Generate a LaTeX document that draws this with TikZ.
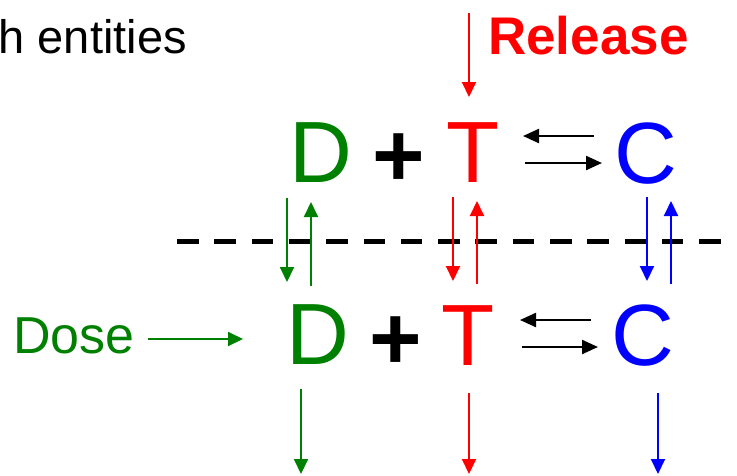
\documentclass[tikz,border=0pt]{standalone}
\usepackage{fontspec}
\setmainfont{Liberation Sans}
\usetikzlibrary{arrows.meta}
\definecolor{dgreen}{RGB}{0,128,0}
\tikzset{
  big/.style={font=\fontsize{87}{90}\selectfont, inner sep=0pt, anchor=base},
  plus/.style={font=\fontsize{90}{94}\selectfont\bfseries, inner sep=0pt, anchor=base},
  lbl/.style={inner sep=0pt, anchor=base west},
  arr/.style={line width=2pt, -{Triangle[length=15pt,width=14pt]}},
  barr/.style={line width=2.3pt, -{Triangle[length=16pt,width=14pt]}},
  sep/.style={line width=5pt, dash pattern=on 21.5pt off 15.8pt}
}
\begin{document}
\begin{tikzpicture}[x=1pt,y=-1pt]
\useasboundingbox (0,0) rectangle (737,475);
% texts
\node[lbl, font=\fontsize{47}{50}\selectfont] (title) at (-1.5,53) {h entities};
\node[lbl, text=red, font=\fontsize{53}{56}\selectfont\bfseries] (rel) at (488,54) {Release};
\node[lbl, text=dgreen, font=\fontsize{52}{55}\selectfont] (dose) at (13,353) {Dose};
% top row
\node[big, text=dgreen] (D1) at (321,182) {D};
\node[plus] (P1) at (399,186) {+};
\node[big, text=red] (T1) at (473,182) {T};
\node[big, text=blue] (C1) at (645.5,183) {C};
% bottom row
\node[big, text=dgreen] (D2) at (318,364) {D};
\node[plus] (P2) at (396,369.5) {+};
\node[big, text=red] (T2) at (468,365) {T};
\node[big, text=blue] (C2) at (642.5,365) {C};
% coordinates
\coordinate (relA) at (469,13);  \coordinate (relB) at (469,97);
\coordinate (doseA) at (148,339); \coordinate (doseB) at (243,339);
\coordinate (e1a) at (594,136); \coordinate (e1b) at (523,136);
\coordinate (e2a) at (525,163); \coordinate (e2b) at (602,163);
\coordinate (e3a) at (591,320); \coordinate (e3b) at (520,320);
\coordinate (e4a) at (522,347); \coordinate (e4b) at (598,347);
\coordinate (gdA) at (287,198); \coordinate (gdB) at (287,282);
\coordinate (guA) at (311,286); \coordinate (guB) at (311,202);
\coordinate (rdA) at (453,197); \coordinate (rdB) at (453,281);
\coordinate (ruA) at (477,284); \coordinate (ruB) at (477,201);
\coordinate (bdA) at (647,197); \coordinate (bdB) at (647,281);
\coordinate (buA) at (671,284); \coordinate (buB) at (671,201);
\coordinate (geA) at (301,389); \coordinate (geB) at (301,474);
\coordinate (reA) at (469,393); \coordinate (reB) at (469,474);
\coordinate (beA) at (658,393); \coordinate (beB) at (658,474);
\coordinate (sepA) at (177,241.5); \coordinate (sepB) at (721,241.5);
% separator
\draw[sep] (sepA) -- (sepB);
% arrows
\draw[arr, red] (relA) -- (relB);
\draw[arr, dgreen] (doseA) -- (doseB);
\draw[barr] (e1a) -- (e1b);
\draw[barr] (e2a) -- (e2b);
\draw[barr] (e3a) -- (e3b);
\draw[barr] (e4a) -- (e4b);
\draw[arr, dgreen] (gdA) -- (gdB);
\draw[arr, dgreen] (guA) -- (guB);
\draw[arr, red] (rdA) -- (rdB);
\draw[arr, red] (ruA) -- (ruB);
\draw[arr, blue] (bdA) -- (bdB);
\draw[arr, blue] (buA) -- (buB);
\draw[arr, dgreen] (geA) -- (geB);
\draw[arr, red] (reA) -- (reB);
\draw[arr, blue] (beA) -- (beB);
\end{tikzpicture}
\end{document}
